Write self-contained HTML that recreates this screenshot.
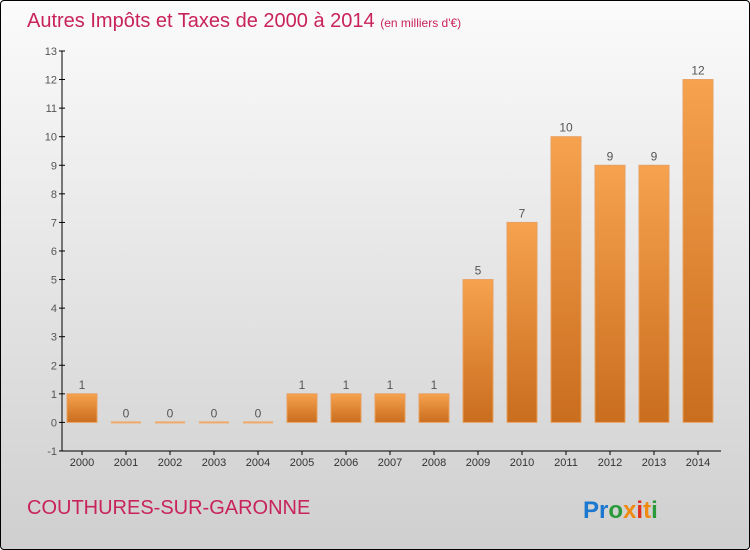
<!DOCTYPE html>
<html><head><meta charset="utf-8"><style>
body{margin:0;}
#c{width:748px;height:548px;border:1px solid #000;border-radius:4px;overflow:hidden;background:linear-gradient(#fbfbfb,#cfcfcf);position:relative;font-family:"Liberation Sans",sans-serif;}
</style></head><body>
<div id="c">
<svg width="748" height="548" xmlns="http://www.w3.org/2000/svg" id="svg">
<defs><linearGradient id="bg" x1="0" y1="0" x2="0" y2="1"><stop offset="0" stop-color="#f6a24e"/><stop offset="1" stop-color="#c96d1e"/></linearGradient></defs>
<text x="26" y="26" font-size="20" fill="#c8235a">Autres Impôts et Taxes de 2000 à 2014 <tspan font-size="12">(en milliers d'€)</tspan></text>
<text x="26" y="513" font-size="20" fill="#c8235a">COUTHURES-SUR-GARONNE</text>
<g font-size="24" font-weight="bold">
<text x="582" y="517"><tspan fill="#1a78d0">Pr</tspan><tspan fill="#2a9a3a">o</tspan><tspan fill="#f08a10">x</tspan><tspan fill="#e03020">i</tspan><tspan fill="#f08a10">t</tspan><tspan fill="#2a9a3a">i</tspan></text></g>
<g id="plot"></g>
</svg>
</div>
<script>
const years=["2000","2001","2002","2003","2004","2005","2006","2007","2008","2009","2010","2011","2012","2013","2014"];
const values=[1,0,0,0,0,1,1,1,1,5,7,10,9,9,12];
const yTicks=[-1,0,1,2,3,4,5,6,7,8,9,10,11,12,13];
const NS="http://www.w3.org/2000/svg";
const g=document.getElementById('plot');
const y=v=>421.4-(v)*28.57;
const x=i=>81+i*44;
function mk(t,a,txt){const e=document.createElementNS(NS,t);for(const k in a)e.setAttribute(k,a[k]);if(txt!==undefined)e.textContent=txt;g.appendChild(e);return e;}
let ax=mk('line',{x1:61,y1:y(13),x2:61,y2:y(-1),stroke:'#000'});


let bx=mk('line',{x1:61,y1:y(-1),x2:720,y2:y(-1),stroke:'#000'});


yTicks.forEach(t=>{
 let l=mk('line',{x1:58,y1:y(t),x2:64,y2:y(t),stroke:'#000'});
 
 
 let tx=mk('text',{x:56,y:y(t)+4,'font-size':11,fill:'#555','text-anchor':'end'},String(t));
 
 
});
years.forEach((yr,i)=>{
 let l=mk('line',{x1:x(i),y1:y(-1),x2:x(i),y2:y(-1)+4,stroke:'#000'});
 
 
 let tx=mk('text',{x:x(i),y:465,'font-size':11,fill:'#333','text-anchor':'middle'},yr);
 
 
 const v=values[i];
 let r;
 if(v>0){r=mk('rect',{x:x(i)-15,y:y(v),width:30,height:y(0)-y(v),fill:'url(#bg)',stroke:'#e8a060','stroke-width':1});}
 else{r=mk('rect',{x:x(i)-15,y:y(0)-1,width:30,height:2,fill:'#f0a868'});}
 
 
 let vl=mk('text',{x:x(i),y:y(v)-5,'font-size':12,fill:'#555','text-anchor':'middle'},String(v));
 
 
});
</script>
</body></html>
